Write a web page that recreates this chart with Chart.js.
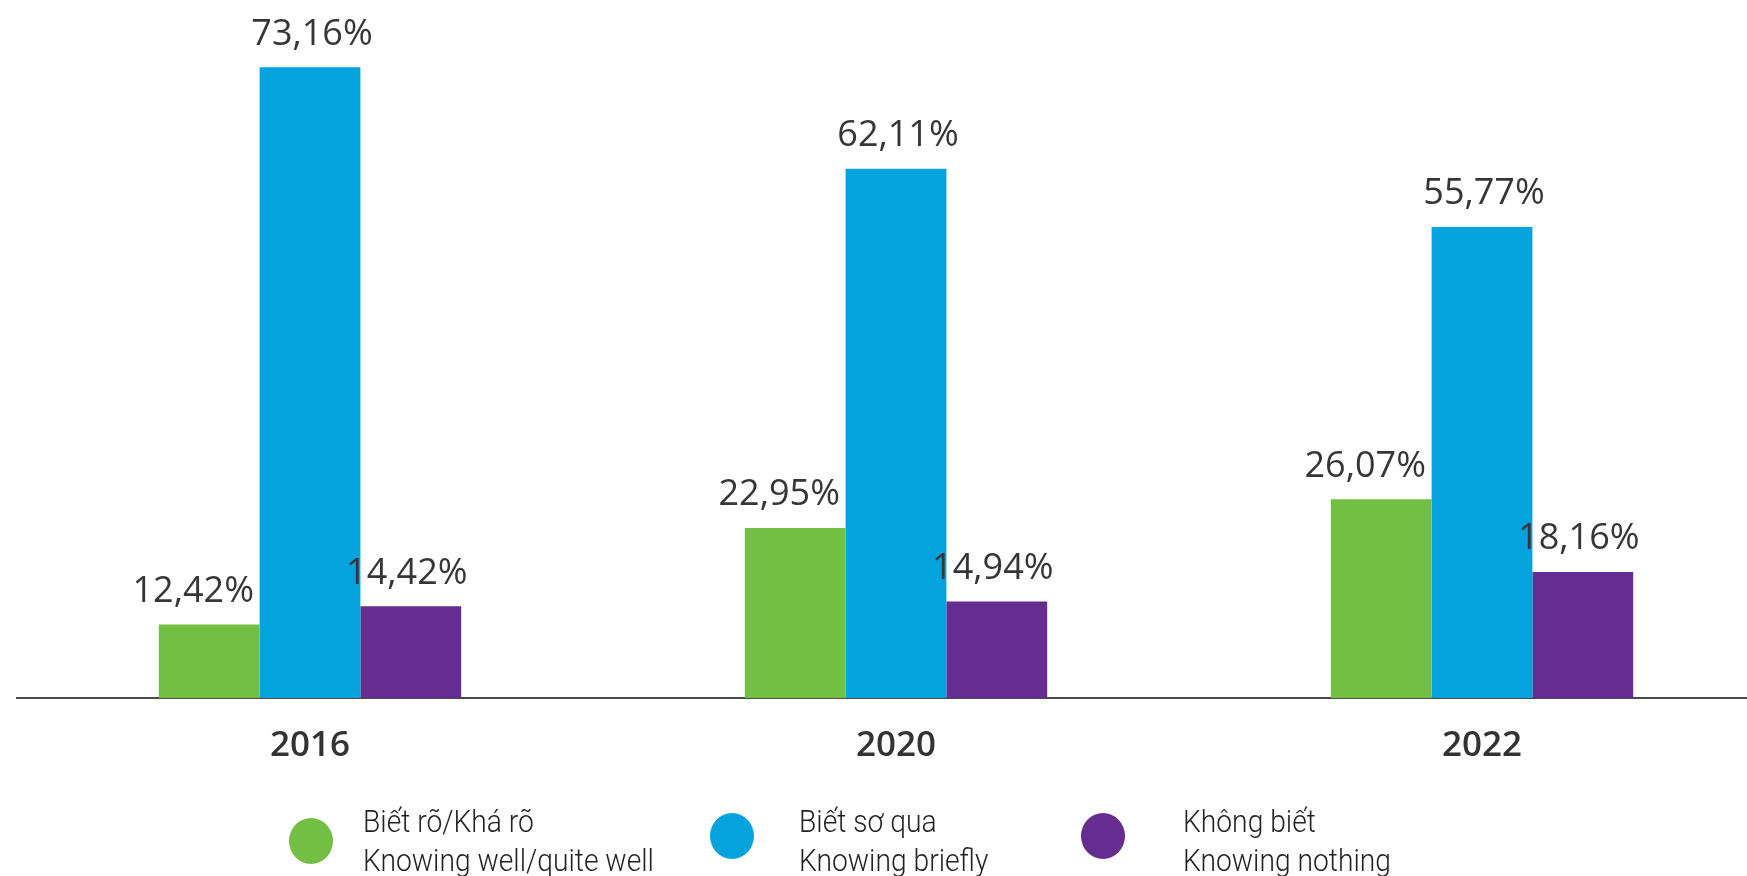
<!DOCTYPE html>
<html>
<head>
<meta charset="utf-8">
<script src="https://cdn.jsdelivr.net/npm/chart.js@4"></script>
<style>
    html, body { margin: 0; padding: 0; background: #fff; overflow: hidden; }
    #wrap { position: relative; width: 1747px; height: 876px; overflow: hidden; }
    #box { position: absolute; left: 0; top: 0; width: 1775px; height: 876px; }
    .dot { position: absolute; width: 44px; height: 46px; border-radius: 50%; }
    .txt {
        position: absolute;
        font-family: Roboto, sans-serif;
        font-weight: 300;
        font-size: 31px;
        line-height: 39px;
        color: #231f20;
        white-space: nowrap;
        transform: scaleX(0.91);
        transform-origin: left top;
    }
</style>
</head>
<body>
<div id="wrap">
    <div id="box"><canvas id="chart"></canvas></div>

    <div class="dot" style="left:289px; top:818px; background:#72bf44"></div>
    <div class="txt" style="left:363px; top:802px">Biết rõ/Khá rõ<br>Knowing well/quite well</div>

    <div class="dot" style="left:710px; top:813px; background:#05a3de"></div>
    <div class="txt" style="left:799px; top:802px">Biết sơ qua<br>Knowing briefly</div>

    <div class="dot" style="left:1081px; top:813px; background:#662d91"></div>
    <div class="txt" style="left:1183px; top:802px">Không biết<br>Knowing nothing</div>
</div>

<script>
const years = ['2016', '2020', '2022'];
const knowingWell = [12.42, 22.95, 26.07];
const knowingBriefly = [73.16, 62.11, 55.77];
const knowingNothing = [14.42, 14.94, 18.16];
const seriesNames = ['Biết rõ/Khá rõ', 'Biết sơ qua', 'Không biết'];

const colors = ['#72bf44', '#05a3de', '#662d91'];

// value labels above each bar, comma decimal like the original
const valueLabels = {
    id: 'valueLabels',
    afterDatasetsDraw(chart) {
        const ctx = chart.ctx;
        ctx.save();
        ctx.font = '400 36px "Open Sans", sans-serif';
        ctx.fillStyle = '#363636';
        ctx.textAlign = 'center';
        ctx.textBaseline = 'middle';
        chart.data.datasets.forEach((ds, i) => {
            const meta = chart.getDatasetMeta(i);
            meta.data.forEach((bar, j) => {
                const v = ds.data[j];
                const txt = v.toFixed(2).replace('.', ',') + '%';
                ctx.fillText(txt, bar.x + (ds.labelShift || 0), bar.y - 33);
            });
        });
        ctx.restore();
    }
};

const ctx = document.getElementById('chart').getContext('2d');

new Chart(ctx, {
    type: 'bar',
    data: {
        labels: years,
        datasets: [
            { label: seriesNames[0], data: knowingWell, backgroundColor: colors[0], labelShift: -16 },
            { label: seriesNames[1], data: knowingBriefly, backgroundColor: colors[1], labelShift: 2 },
            { label: seriesNames[2], data: knowingNothing, backgroundColor: colors[2], labelShift: -4 }
        ]
    },
    options: {
        responsive: true,
        maintainAspectRatio: false,
        animation: false,
        layout: { padding: { top: 0, bottom: 82, left: 17, right: 0 } },
        datasets: {
            bar: { categoryPercentage: 0.516, barPercentage: 1.0, borderWidth: 0 }
        },
        plugins: {
            legend: { display: false },
            tooltip: { enabled: false }
        },
        scales: {
            x: {
                grid: { display: false, drawTicks: false },
                border: { display: true, color: '#4a4a4a', width: 2 },
                ticks: {
                    color: '#333',
                    padding: 27,
                    font: { family: '"Open Sans", sans-serif', size: 35, weight: '600' }
                }
            },
            y: {
                display: false,
                min: 4.42,
                max: 80.5
            }
        }
    },
    plugins: [valueLabels]
});
</script>
</body>
</html>
